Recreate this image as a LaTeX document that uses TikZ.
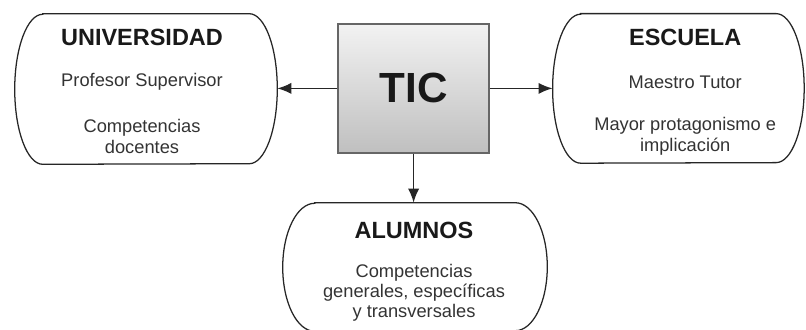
\documentclass[tikz,border=0pt]{standalone}
\usepackage{fontspec}
\setmainfont{Liberation Sans}
\usetikzlibrary{arrows.meta,positioning}

% oval frame round a named node: node, x radius, y radius
\newcommand{\ovalframe}[3]{%
  \draw[frame] ([xshift=#2]#1.north west) -- ([xshift=-#2]#1.north east)
    arc[start angle=90, end angle=-90, x radius=#2, y radius=#3]
    -- ([xshift=#2]#1.south west)
    arc[start angle=270, end angle=90, x radius=#2, y radius=#3] -- cycle;}

\begin{document}
\begin{tikzpicture}[
    side/.style={rectangle, minimum width=6.55cm, minimum height=3.75cm},
    frame/.style={draw=black!85, line width=0.9pt},
    ticbox/.style={rectangle, draw=black!60, line width=1pt, top color=gray!10, bottom color=gray!50, minimum width=3.775cm, minimum height=3.225cm, font=\fontsize{30}{34}\selectfont\bfseries, text=black!90},
    title/.style={font=\fontsize{16.7}{19}\selectfont\bfseries, text=black!90},
    body/.style={font=\fontsize{13}{15}\selectfont, text=black!80, align=center},
    arrow/.style={-{Latex[length=10pt,width=8pt]}, line width=1.2pt, draw=black!85}
]
\useasboundingbox (0,0) rectangle (20.15,-8.225);

% Centre: TIC
\node[ticbox] (tic) at (10.34,-2.21) {TIC};

% Left: Universidad
\node[side] (uni) at (3.65,-2.225) {};
\ovalframe{uni}{0.7cm}{1.875cm}
\node[title] (unititle) at (3.55,-0.925) {UNIVERSIDAD};
\node[body] (uniprof) at (3.55,-2.05) {Profesor Supervisor};
\node[body] (unicomp) at (3.55,-3.41) {Competencias\\docentes};

% Right: Escuela
\node[side, minimum width=6.275cm, minimum height=3.725cm] (esc) at (16.96,-2.21) {};
\ovalframe{esc}{0.7cm}{1.8625cm}
\node[title] (esctitle) at (17.13,-0.925) {ESCUELA};
\node[body] (escmaes) at (17.13,-2.05) {Maestro Tutor};
\node[body] (escprot) at (17.13,-3.41) {Mayor protagonismo e\\implicación};

% Bottom: Alumnos
\node[side, minimum width=6.6cm, minimum height=3.2cm] (alu) at (10.375,-6.675) {};
\ovalframe{alu}{0.8cm}{1.6cm}
\node[title] (alutitle) at (10.35,-5.75) {ALUMNOS};
\node[body, font=\fontsize{13}{14.2}\selectfont] (alucomp) at (10.35,-7.325) {Competencias\\generales, específicas\\y transversales};

% Arrows
\draw[arrow] (tic.west) -- (tic.west -| uni.east);
\draw[arrow] (tic.east) -- (tic.east -| esc.west);
\draw[arrow] (tic.south) -- (tic.south |- alu.north);

\end{tikzpicture}
\end{document}
